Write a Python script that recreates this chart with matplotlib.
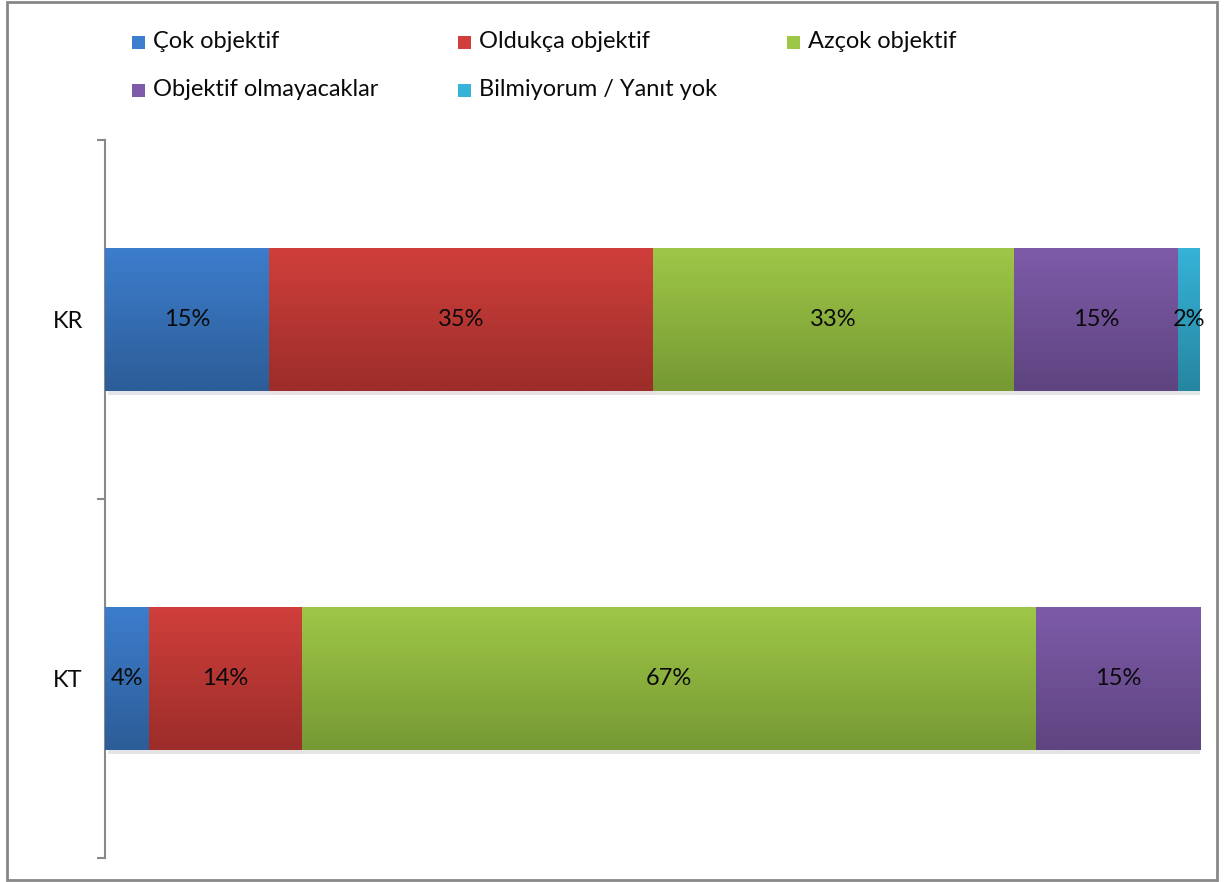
import numpy as np
import matplotlib
matplotlib.use("Agg")
import matplotlib.pyplot as plt
import matplotlib.patheffects as pe
from matplotlib.colors import LinearSegmentedColormap
from matplotlib.patches import Rectangle

plt.rcParams['font.family'] = ['Lato', 'DejaVu Sans']

# veriler
groups = ['KR', 'KT']
series = ['Çok objektif', 'Oldukça objektif', 'Azçok objektif',
          'Objektif olmayacaklar', 'Bilmiyorum / Yanıt yok']
values = {
    'Çok objektif': [15, 4],
    'Oldukça objektif': [35, 14],
    'Azçok objektif': [33, 67],
    'Objektif olmayacaklar': [15, 15],
    'Bilmiyorum / Yanıt yok': [2, 0],
}
# renkler: üst (açık) ve alt (koyu)
top_colors = ['#3d7dcd', '#d03f3b', '#9fc747', '#7e5ba9', '#36b3d7']
bot_colors = ['#2c5d97', '#9c2d2a', '#769934', '#5e4480', '#2686a1']

fs = 17

fig = plt.figure(figsize=(12.3, 8.82), dpi=100)
ax = fig.add_axes([105 / 1230, 24 / 882, 1095 / 1230, 718 / 882])

y = np.arange(len(groups))
h = 0.4
left = np.zeros(len(groups))
for i, name in enumerate(series):
    vals = np.array(values[name], dtype=float)
    bars = ax.barh(y, vals, height=h, left=left, color=top_colors[i],
                   linewidth=0, zorder=2)
    cmap = LinearSegmentedColormap.from_list('g%d' % i, [top_colors[i], bot_colors[i]])
    grad = np.linspace(0, 1, 100).reshape(-1, 1)
    for b, v, l, yy in zip(bars, vals, left, y):
        if v <= 0:
            continue
        b.set_path_effects([pe.SimplePatchShadow(offset=(2, -2.5), alpha=0.12), pe.Normal()])
        im = ax.imshow(grad, extent=[l, l + v, yy + h / 2, yy - h / 2],
                       cmap=cmap, aspect='auto', origin='upper', zorder=3,
                       interpolation='bilinear')
        im.set_clip_path(b)
        ax.text(l + v / 2, yy, '%d%%' % v, ha='center', va='center',
                fontsize=fs, color='#0a0a0a', zorder=4)
    left = left + vals

ax.set_xlim(0, 100)
ax.set_ylim(1.5, -0.5)
ax.set_yticks(y)
ax.set_yticklabels(groups, fontsize=fs, color='#0a0a0a')
ax.tick_params(axis='y', which='major', length=0, pad=16)
ax.set_yticks([-0.5, 0.5, 1.5], minor=True)
ax.tick_params(axis='y', which='minor', length=6, width=1.5, color='#888888')
ax.set_xticks([])
for s in ['top', 'right', 'bottom']:
    ax.spines[s].set_visible(False)
ax.spines['left'].set_color('#888888')
ax.spines['left'].set_linewidth(1.5)

# lejant
col_x = [132, 458, 787]
row_y = [42, 90]
for i, name in enumerate(series):
    cx = col_x[i % 3]
    cy = row_y[i // 3]
    fig.add_artist(Rectangle((cx / 1230, 1 - (cy + 7) / 882), 13 / 1230, 13 / 882,
                             transform=fig.transFigure, facecolor=top_colors[i],
                             edgecolor='none'))
    fig.text((cx + 21) / 1230, 1 - cy / 882, name, fontsize=fs, va='center',
             ha='left', color='#0a0a0a')

# dış çerçeve
fig.add_artist(Rectangle((7 / 1230, 2 / 882), 1210 / 1230, 878 / 882,
                         transform=fig.transFigure, fill=False,
                         edgecolor='#888888', linewidth=2))

fig.savefig('out.png', dpi=100)
